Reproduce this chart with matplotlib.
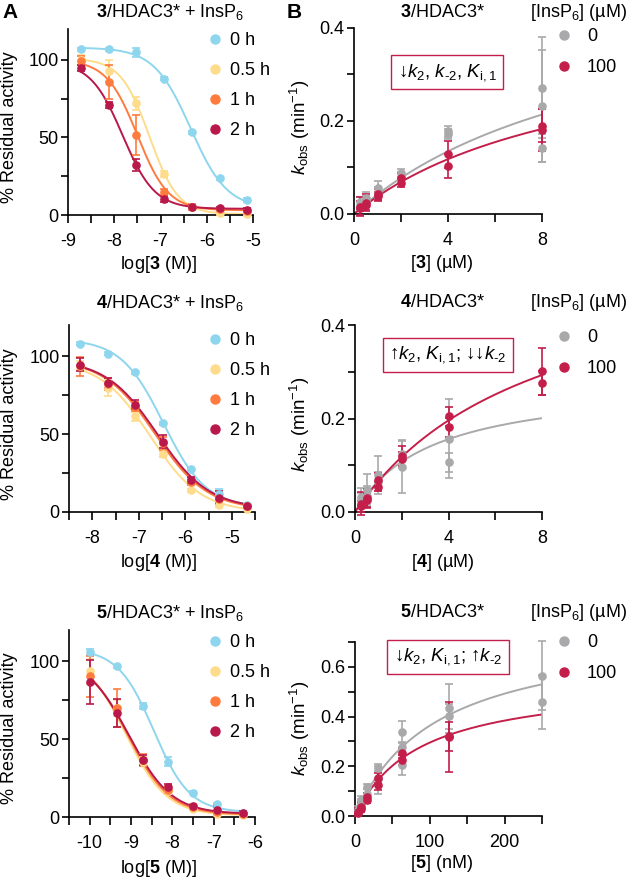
import numpy as np
import matplotlib
matplotlib.use("Agg")
import matplotlib.pyplot as plt
from matplotlib.lines import Line2D

plt.rcParams['font.family'] = ['Liberation Sans', 'DejaVu Sans']
plt.rcParams['font.size'] = 13
plt.rcParams['mathtext.fontset'] = 'custom'
plt.rcParams['mathtext.rm'] = 'Liberation Sans'
plt.rcParams['mathtext.it'] = 'Liberation Sans:italic'
plt.rcParams['mathtext.bf'] = 'Liberation Sans:bold'
plt.rcParams['axes.unicode_minus'] = False

# ---------------- data: panel A (dose response, % residual activity) ----------------
time_labels = ["0 h", "0.5 h", "1 h", "2 h"]
time_colors = ["#8ED5EE", "#FEDC8C", "#FF7B3D", "#B8184A"]

a3_x = [-8.72, -8.12, -7.52, -6.92, -6.32, -5.72, -5.12]
a3_y = [[107, 107, 105, 88, 53.4, 23.7, 9.7],
        [100, 93, 72, 26.5, 5.4, 1, 0.5],
        [99.6, 85.6, 51.7, 15, 5.4, 3.7, 2.8],
        [95, 71, 32.3, 10.3, 5.4, 4.3, 3.2]]
a3_err = [[1, 1, 3, 1, 1, 1, 1],
          [3, 7, 4, 2, 1, 1, 1],
          [3, 11, 13, 2, 2, 1, 1],
          [2, 2, 4, 2, 1, 1, 1]]
# fit parameters: top, bottom, logIC50, hill slope
a3_fit = [[108, 4, -6.35, 1.1],
          [101, 0.5, -7.24, 1.4],
          [100, 3, -7.5, 1.3],
          [99, 4, -7.82, 1.25]]

a4_x = [-8.27, -7.67, -7.07, -6.47, -5.87, -5.27, -4.67]
a4_y = [[108, 101.7, 89.7, 57, 27.3, 11.8, 4.3],
        [94, 79.6, 61.3, 37.2, 14, 4.3, 2],
        [93.5, 82, 67.7, 44, 19.4, 8.6, 3.7],
        [94.6, 82.8, 68.8, 45.2, 20.4, 9.2, 3.7]]
a4_err = [[1, 1, 1, 1, 1, 3, 1],
          [3, 5, 3, 2, 1, 1, 1],
          [6, 4, 3, 4, 2, 3, 1],
          [4, 3, 3, 4, 2, 4, 1]]
a4_fit = [[111, 3, -6.47, 0.95],
          [97, 0, -6.75, 0.8],
          [98, 1.5, -6.64, 0.78],
          [98, 2, -6.6, 0.78]]

a5_x = [-10.0, -9.35, -8.72, -8.11, -7.51, -6.91, -6.30]
a5_y = [[105.8, 96.8, 71.4, 35.5, 15.7, 8.2, 2.8],
        [93.5, 70, 35.5, 16.8, 5.4, 2.2, 1],
        [90.3, 70, 36.6, 17.6, 6.5, 3.5, 2],
        [86.5, 67, 36.6, 19, 7, 4.7, 2.6]]
a5_err = [[2, 1, 2, 3, 1, 1, 1],
          [8, 5, 3, 2, 1, 1, 1],
          [13, 12, 4, 2, 2, 3, 1],
          [14, 9, 3, 2, 1, 3, 1]]
a5_fit = [[108, 3, -8.45, 1.0],
          [105, 1, -9.12, 0.88],
          [104, 1.5, -9.08, 0.86],
          [103, 2, -9.05, 0.84]]

# ---------------- data: panel B (k_obs vs inhibitor) ----------------
insp_labels = ["0", "100"]
insp_colors = ["#A9A9AB", "#C41E4A"]
nan = np.nan

b3_x = [0.25, 0.5, 1, 2, 4, 8]
b3_gray = [[0.025, 0.035, 0.055, 0.088, 0.178, 0.272],
           [0.018, 0.028, 0.045, 0.080, 0.172, 0.232],
           [nan, nan, nan, nan, nan, 0.142]]
b3_gray_err = [[0.012, 0.012, 0.015, 0.008, 0.012, 0.108],
               [0.010, 0.010, 0.012, 0.010, 0.010, 0.12],
               [nan, nan, nan, nan, nan, 0.03]]
b3_red = [[0.016, 0.024, 0.042, 0.077, 0.128, 0.190],
          [0.012, 0.020, 0.038, 0.067, 0.103, 0.181]]
b3_red_err = [[0.02, 0.018, 0.012, 0.012, 0.03, 0.035],
              [0.015, 0.012, 0.01, 0.01, 0.025, 0.045]]
b3_fit = [[0.516, 11.3], [0.407, 9.8]]  # kmax, K

b4_x = [0.25, 0.5, 1, 2, 4, 8]
b4_gray = [[0.032, 0.046, 0.079, 0.096, 0.157, nan],
           [0.025, 0.035, 0.065, 0.125, 0.106, nan]]
b4_gray_err = [[0.02, 0.035, 0.04, 0.055, 0.085, nan],
               [0.015, 0.02, 0.02, 0.03, 0.02, nan]]
b4_red = [[0.018, 0.029, 0.068, 0.12, 0.205, 0.301],
          [0.012, 0.025, 0.054, 0.114, 0.181, 0.276]]
b4_red_err = [[0.025, 0.02, 0.015, 0.022, 0.02, 0.05],
              [0.012, 0.015, 0.01, 0.015, 0.02, 0.025]]
b4_fit = [[0.282, 3.24], [0.58, 7.84]]

b5_x = [3.9, 7.8, 15.6, 31.25, 62.5, 125, 250]
b5_gray = [[0.024, 0.064, 0.118, 0.192, 0.339, 0.433, 0.565],
           [0.02, 0.05, 0.09, 0.15, 0.279, 0.402, 0.459],
           [nan, nan, nan, nan, 0.205, nan, nan]]
b5_gray_err = [[0.01, 0.015, 0.01, 0.01, 0.045, 0.1, 0.14],
               [0.02, 0.02, 0.02, 0.06, 0.02, 0.05, 0.11],
               [nan, nan, nan, nan, 0.04, nan, nan]]
b5_red = [[0.017, 0.037, 0.078, 0.151, 0.252, 0.319, nan],
          [0.012, 0.03, 0.064, 0.125, 0.225, 0.32, nan]]
b5_red_err = [[0.015, 0.02, 0.015, 0.02, 0.02, 0.14, nan],
              [0.01, 0.01, 0.01, 0.02, 0.02, 0.06, nan]]
b5_fit = [[0.762, 109.6], [0.548, 85.5]]

# ---------------- layout helpers (pixels) ----------------
W, H = 629, 880
fig = plt.figure(figsize=(W / 100, H / 100), dpi=100)


def rect(l, t, r, b):
    return [l / W, 1 - b / H, (r - l) / W, (b - t) / H]


def ftext(x, y, s, **kw):
    fig.text(x / W, 1 - y / H, s, **kw)


def logistic(x, top, bottom, logic50, hill):
    return bottom + (top - bottom) / (1 + 10 ** (hill * (x - logic50)))


def hyperbola(x, kmax, k):
    return kmax * x / (k + x)


def style_axes(ax):
    for s in ["top", "right"]:
        ax.spines[s].set_visible(False)
    for s in ["left", "bottom"]:
        ax.spines[s].set_linewidth(1.2)
    ax.tick_params(which="both", direction="out", length=5.4, width=1.2)
    ax.tick_params(axis="x", which="both", pad=7.5)
    ax.tick_params(axis="y", which="both", pad=1.5)


def draw_a(ax, x, ys, errs, fits, xlim, xticks, xminor, legend_top):
    for y, e, p, c in zip(ys, errs, fits, time_colors):
        xx = np.linspace(x[0], x[-1], 200)
        ax.plot(xx, logistic(xx, *p), color=c, lw=1.4, zorder=2)
        ax.errorbar(x, y, yerr=e, fmt="o", color=c, ms=5.2, capsize=3,
                    elinewidth=1.2, capthick=1.2, zorder=3, clip_on=False)
    ax.set_xlim(*xlim)
    ax.set_ylim(0, 120)
    ax.set_xticks(xticks)
    ax.set_xticks(xminor, minor=True)
    ax.set_yticks([0, 50, 100])
    ax.set_yticks([25, 75], minor=True)
    style_axes(ax)
    handles = [Line2D([], [], marker="o", ls="none", color=c, ms=6.5) for c in time_colors]
    ax.legend(handles, time_labels, loc="upper left", frameon=False,
              bbox_to_anchor=(208 / W, 1 - legend_top / H), bbox_transform=fig.transFigure,
              borderpad=0, borderaxespad=0, handlelength=0.75, handletextpad=0.45,
              labelspacing=0.72)


def draw_b(ax, x, gray, gray_err, red, red_err, fits, legend_top):
    xx = np.linspace(0, x[-1], 200)
    for reps, errs, p, c in [(gray, gray_err, fits[0], insp_colors[0]),
                             (red, red_err, fits[1], insp_colors[1])]:
        ax.plot(xx, hyperbola(xx, *p), color=c, lw=1.4, zorder=2)
        for y, e in zip(reps, errs):
            ax.errorbar(x, y, yerr=e, fmt="o", color=c, ms=5.2, capsize=3,
                        elinewidth=1.2, capthick=1.2, zorder=3, clip_on=False)
    style_axes(ax)
    handles = [Line2D([], [], marker="o", ls="none", color=c, ms=6.5) for c in insp_colors]
    ax.legend(handles, insp_labels, loc="upper left", frameon=False,
              bbox_to_anchor=(557 / W, 1 - legend_top / H), bbox_transform=fig.transFigure,
              borderpad=0, borderaxespad=0, handlelength=0.75, handletextpad=0.9,
              labelspacing=0.8)


def box_note(ax, x, y, s):
    ax.text(x, y, s, transform=ax.transAxes, ha="center", va="center", fontsize=13.5,
            bbox=dict(boxstyle="square,pad=0.35", fc="white", ec=insp_colors[1], lw=1.0))


# ---------------- row 1: compound 3 ----------------
ax = fig.add_axes(rect(68, 29, 253, 215))
draw_a(ax, a3_x, a3_y, a3_err, a3_fit, (-9, -5), [-9, -8, -7, -6, -5],
       [-8.5, -7.5, -6.5, -5.5], 32)
ax = fig.add_axes(rect(354, 28, 542, 214))
draw_b(ax, b3_x, b3_gray, b3_gray_err, b3_red, b3_red_err, b3_fit, 28)
ax.set_xlim(0, 8)
ax.set_ylim(0, 0.4)
ax.set_xticks([0, 4, 8])
ax.set_xticks([2, 6], minor=True)
ax.set_yticks([0, 0.2, 0.4], ["0.0", "0.2", "0.4"])
ax.set_yticks([0.1, 0.3], minor=True)
box_note(ax, 0.495, 0.763, r"↓$k_2$, $k_{\text{-}2}$, $K_{\mathrm{i,1}}$")

# ---------------- row 2: compound 4 ----------------
ax = fig.add_axes(rect(69, 325, 255, 512))
draw_a(ax, a4_x, a4_y, a4_err, a4_fit, (-8.5, -4.5), [-8, -7, -6, -5],
       [-8.5, -7.5, -6.5, -5.5, -4.5], 332)
ax = fig.add_axes(rect(355, 325, 542, 512))
draw_b(ax, b4_x, b4_gray, b4_gray_err, b4_red, b4_red_err, b4_fit, 329)
ax.set_xlim(0, 8)
ax.set_ylim(0, 0.4)
ax.set_xticks([0, 4, 8])
ax.set_xticks([2, 6], minor=True)
ax.set_yticks([0, 0.2, 0.4], ["0.0", "0.2", "0.4"])
ax.set_yticks([0.1, 0.3], minor=True)
box_note(ax, 0.497, 0.842, r"↑$k_2$, $K_{\mathrm{i,1}}$; ↓↓$k_{\text{-}2}$")

# ---------------- row 3: compound 5 ----------------
ax = fig.add_axes(rect(69, 630, 255, 817))
draw_a(ax, a5_x, a5_y, a5_err, a5_fit, (-10.5, -6), [-10, -9, -8, -7, -6],
       [-10.5, -9.5, -8.5, -7.5, -6.5], 634)
ax = fig.add_axes(rect(355, 642, 542, 816))
draw_b(ax, b5_x, b5_gray, b5_gray_err, b5_red, b5_red_err, b5_fit, 634)
ax.set_xlim(0, 250)
ax.set_ylim(0, 0.7)
ax.set_xticks([0, 100, 200])
ax.set_xticks([50, 150, 250], minor=True)
ax.set_yticks([0, 0.2, 0.4, 0.6], ["0.0", "0.2", "0.4", "0.6"])
ax.set_yticks([0.1, 0.3, 0.5, 0.7], minor=True)
box_note(ax, 0.497, 0.915, r"↓$k_2$, $K_{\mathrm{i,1}}$; ↑$k_{\text{-}2}$")

# ---------------- texts ----------------
ftext(2, 18, "A", fontsize=15, fontweight="bold", va="baseline")
ftext(287, 18, "B", fontsize=15, fontweight="bold", va="baseline")

for n, ty, ly, xy, yc in [("3", 17, 17, 269, 127), ("4", 308, 307, 567, 424),
                          ("5", 618, 617, 873, 728)]:
    ftext(170, ty, r"$\mathbf{%s}$/HDAC3* + InsP$_6$" % n, ha="center", va="baseline")
    ftext(442, ly, r"$\mathbf{%s}$/HDAC3*" % n, ha="center", va="baseline")
    ftext(530, ly, r"[InsP$_6$] (µM)", ha="left", va="baseline")
    ftext(158, xy, r"log[$\mathbf{%s}$ (M)]" % n, ha="center", va="baseline")
    ftext(10, yc, "% Residual activity", rotation=90, ha="center", va="center")
    ftext(300, yc, r"$k_{\mathrm{obs}}$ (min$^{-1}$)", rotation=90, ha="center", va="center",
          fontsize=13.5)

ftext(442, 268, r"[$\mathbf{3}$] (µM)", ha="center", va="baseline")
ftext(443, 567, r"[$\mathbf{4}$] (µM)", ha="center", va="baseline")
ftext(441, 868, r"[$\mathbf{5}$] (nM)", ha="center", va="baseline")

fig.savefig("out.png", dpi=100)
